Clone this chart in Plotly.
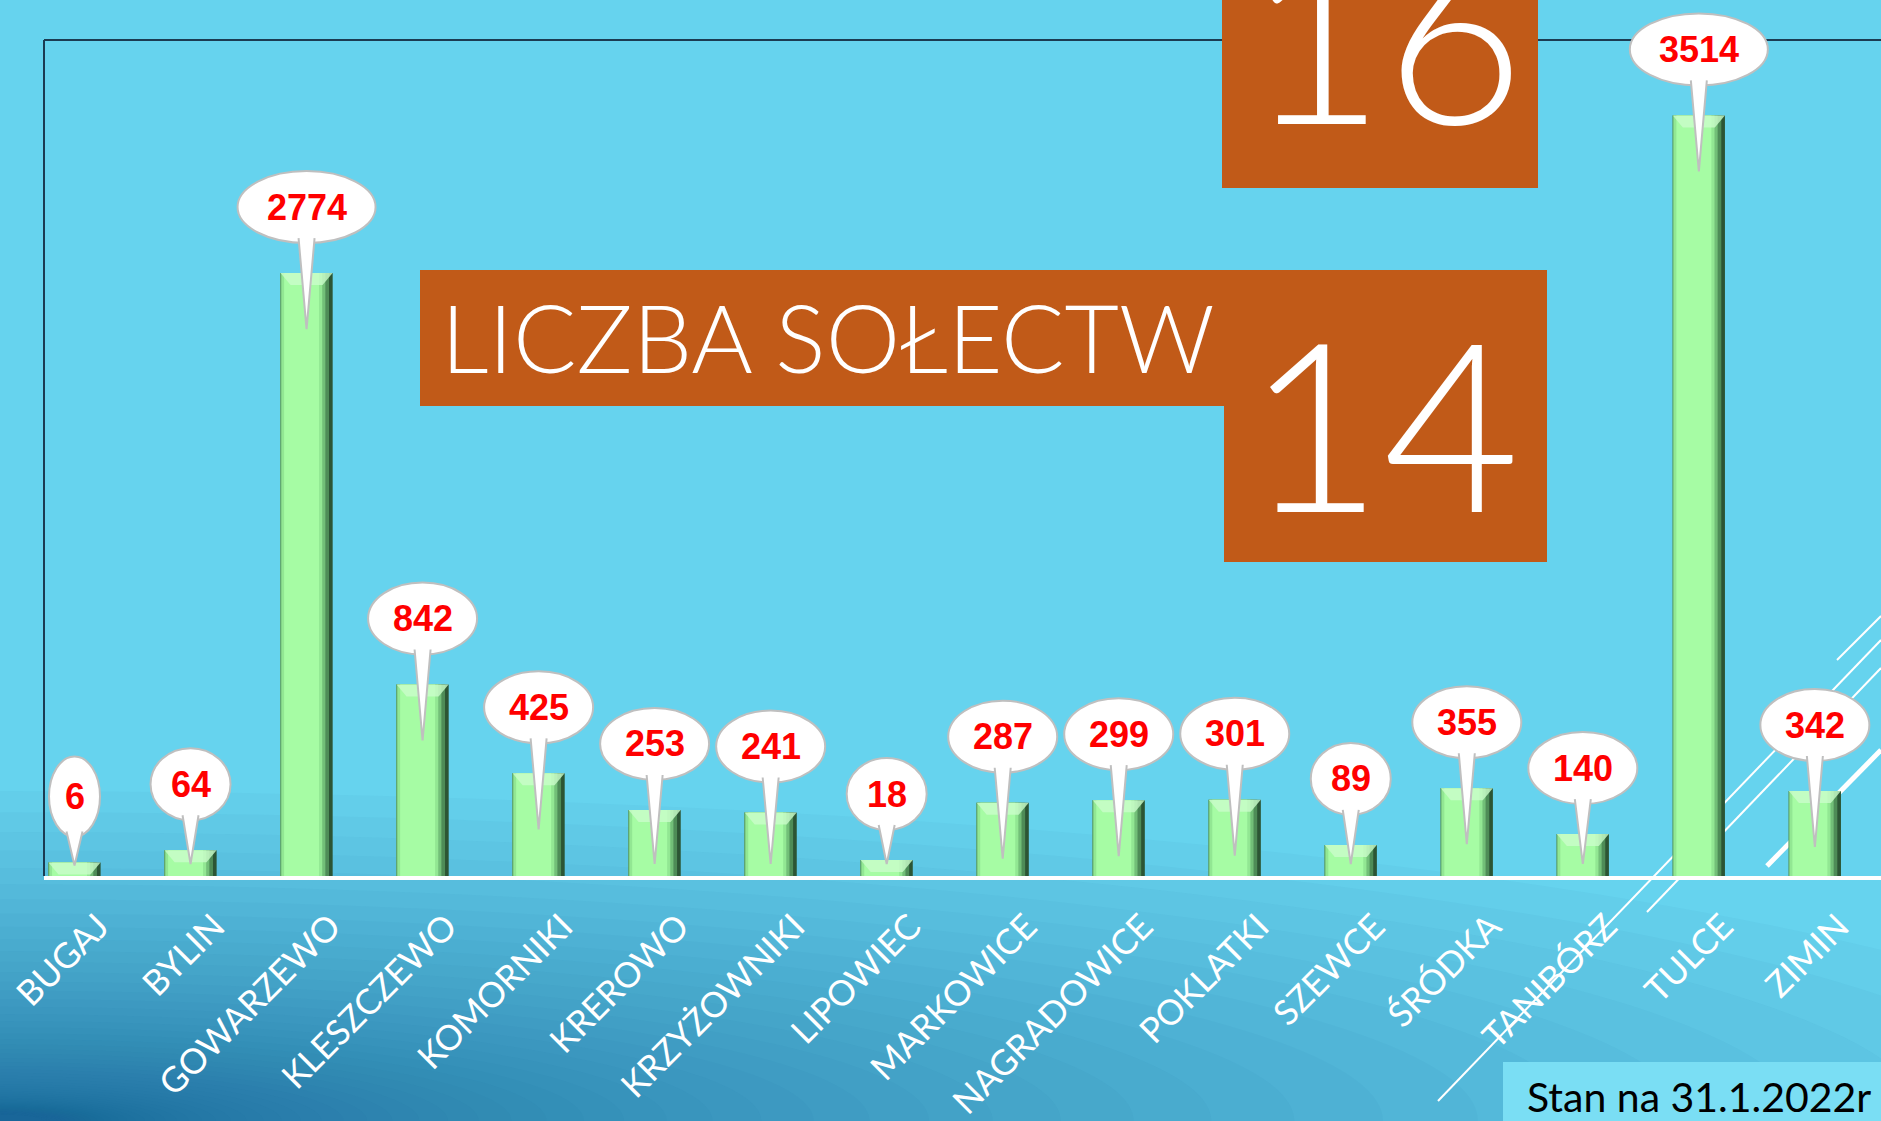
import math
import plotly.graph_objects as go

# liczba mieszkańców w poszczególnych miejscowościach gminy
villages = ["BUGAJ", "BYLIN", "GOWARZEWO", "KLESZCZEWO", "KOMORNIKI", "KREROWO",
            "KRZYŻOWNIKI", "LIPOWIEC", "MARKOWICE", "NAGRADOWICE", "POKLATKI",
            "SZEWCE", "ŚRÓDKA", "TANIBÓRZ", "TULCE", "ZIMIN"]
residents = [6, 64, 2774, 842, 425, 253, 241, 18, 287, 299, 301, 89, 355, 140, 3514, 342]
solectwa = 14
solectwa_title = "LICZBA SOŁECTW"
date_note = "Stan na 31.1.2022r"

# page geometry in pixels
FIG_W, FIG_H = 1881, 1121
M_L, M_T, M_B = 44, 0, 245
PLOT_W = FIG_W - M_L
PLOT_H = FIG_H - M_T - M_B
Y_FLOOR = -57          # floor of the old 3d excel chart
Y_TOP = 4056
PPU = PLOT_H / (Y_TOP - Y_FLOOR)
BAR_W = 0.45
BAR_PX = 52

BG = "#66d3ee"
ORANGE = "#c15a18"
TEXT_FONT = "Century Gothic, Lato, Noto Sans, sans-serif"


def px(x):
    return (x - M_L) / PLOT_W


def py(y):
    return (M_T + PLOT_H - y) / PLOT_H


fig = go.Figure()

# bars built from a few overlapping strips to fake the cylinder shading
strips = [(0.0, 1.0, "#2c5534"), (0.0, 0.93, "#4e8c57"), (0.0, 0.86, "#72bf78"),
          (0.02, 0.80, "#92e793"), (0.07, 0.74, "#a6fca4")]
for a, b, col in strips:
    fig.add_bar(x=villages, y=[v - Y_FLOOR for v in residents], base=Y_FLOOR,
                width=(b - a) * BAR_W, offset=-BAR_W / 2 + a * BAR_W,
                marker=dict(color=col, line=dict(width=0)),
                hoverinfo="skip", showlegend=False)

shapes = []

# background gradient in the bottom left corner: faint ellipses, denser near the corner
n_rings = 60
step = math.log(50) / (n_rings - 1)
for k in range(n_rings):
    s = math.exp(-k * step)
    shapes.append(dict(type="circle", xref="paper", yref="paper", layer="below",
                       x0=px(-2200 * s), x1=px(2200 * s),
                       y0=py(1121 + 330 * s), y1=py(1121 - 330 * s),
                       fillcolor="#1c679e", opacity=0.04, line=dict(width=0)))

# decorative diagonal lines
for (x0, y0, x1, y1, w) in [(1438, 1101, 1881, 640, 2), (1647, 912, 1881, 668, 2),
                            (1767, 866, 1881, 750, 5), (1837, 660, 1881, 616, 2)]:
    shapes.append(dict(type="line", xref="paper", yref="paper", layer="below",
                       x0=px(x0), y0=py(y0), x1=px(x1), y1=py(y1),
                       line=dict(color="white", width=w)))

# box behind the date
shapes.append(dict(type="rect", xref="paper", yref="paper", layer="below",
                   x0=px(1503), x1=px(1881), y0=py(1121), y1=py(1062),
                   fillcolor="#7adef4", line=dict(width=0)))

# chart frame
shapes.append(dict(type="line", xref="paper", yref="paper", x0=0, x1=1, y0=py(40), y1=py(40),
                   line=dict(color="#1b3b52", width=2)))
shapes.append(dict(type="line", xref="paper", yref="paper", x0=0, x1=0, y0=0, y1=py(40),
                   line=dict(color="#1b3b52", width=2)))

# orange boxes
for (x0, y0, x1, y1) in [(1222, 0, 1538, 188), (420, 270, 1547, 406), (1224, 270, 1547, 562)]:
    shapes.append(dict(type="rect", xref="paper", yref="paper",
                       x0=px(x0), x1=px(x1), y0=py(y1), y1=py(y0),
                       fillcolor=ORANGE, line=dict(width=0)))

annotations = []
half = BAR_PX / 2
for name, v in zip(villages, residents):
    # light top face of the bar
    shapes.append(dict(type="path", xref="x", yref="y", xsizemode="pixel", ysizemode="pixel",
                       xanchor=name, yanchor=v,
                       path=f"M {-half},0 L {half},0 L {half - 10},-12 L {-half + 10},-12 Z",
                       fillcolor="#cafdcb", opacity=0.8, line=dict(width=0)))

    label = str(v)
    bw = 22 + 29 * len(label)
    bh = 72 if len(label) > 1 else 80
    c = 66
    bar_h = (v - Y_FLOOR) * PPU
    tip = min(56, max(bar_h - 12, 3))
    shapes.append(dict(type="circle", xref="x", yref="y", xsizemode="pixel", ysizemode="pixel",
                       xanchor=name, yanchor=v, x0=-bw / 2, x1=bw / 2, y0=c - bh / 2, y1=c + bh / 2,
                       fillcolor="white", line=dict(color="#bfbfbf", width=2)))
    top = c - bh / 2 + 5
    shapes.append(dict(type="path", xref="x", yref="y", xsizemode="pixel", ysizemode="pixel",
                       xanchor=name, yanchor=v,
                       path=f"M -8,{top} L 0,{-tip} L 8,{top}",
                       fillcolor="white", line=dict(color="#bfbfbf", width=2)))
    annotations.append(dict(x=name, y=v, yshift=c, text=label, showarrow=False,
                            xanchor="center", yanchor="middle",
                            font=dict(family="Liberation Sans, Arial", size=36, color="#ff0000",
                                      weight="bold")))

annotations += [
    dict(x=px(1385), y=py(31), xref="paper", yref="paper", text=str(len(villages)),
         showarrow=False, xanchor="center", yanchor="middle",
         font=dict(family=TEXT_FONT, size=240, color="white", weight=300)),
    dict(x=px(1383), y=py(421), xref="paper", yref="paper", text=str(solectwa),
         showarrow=False, xanchor="center", yanchor="middle",
         font=dict(family=TEXT_FONT, size=236, color="white", weight=300)),
    dict(x=px(828), y=py(336), xref="paper", yref="paper", text=solectwa_title,
         showarrow=False, xanchor="center", yanchor="middle",
         font=dict(family=TEXT_FONT, size=94, color="white", weight=300)),
    dict(x=px(1525), y=py(1096), xref="paper", yref="paper", text=date_note,
         showarrow=False, xanchor="left", yanchor="middle",
         font=dict(family=TEXT_FONT, size=41, color="black")),
]

fig.update_layout(
    template="none",
    width=FIG_W, height=FIG_H,
    margin=dict(l=M_L, r=0, t=M_T, b=M_B, pad=0),
    paper_bgcolor=BG, plot_bgcolor="rgba(0,0,0,0)",
    barmode="overlay",
    showlegend=False,
    shapes=shapes,
    annotations=annotations,
    xaxis=dict(type="category", range=[-0.263, 15.57], showgrid=False, zeroline=False,
               showline=True, linecolor="white", linewidth=4, ticks="",
               tickangle=-45, automargin=False, ticklabelstandoff=12, ticklabelshift=24,
               tickfont=dict(family=TEXT_FONT, size=35, color="white")),
    yaxis=dict(range=[Y_FLOOR, Y_TOP], showgrid=False, zeroline=False, showline=False,
               showticklabels=False, ticks="", automargin=False),
)

# the page should hold just the slide, without the default body margin
fig.write_html("out.html", config={"displayModeBar": False},
               post_script="document.body.style.margin = '0';")
